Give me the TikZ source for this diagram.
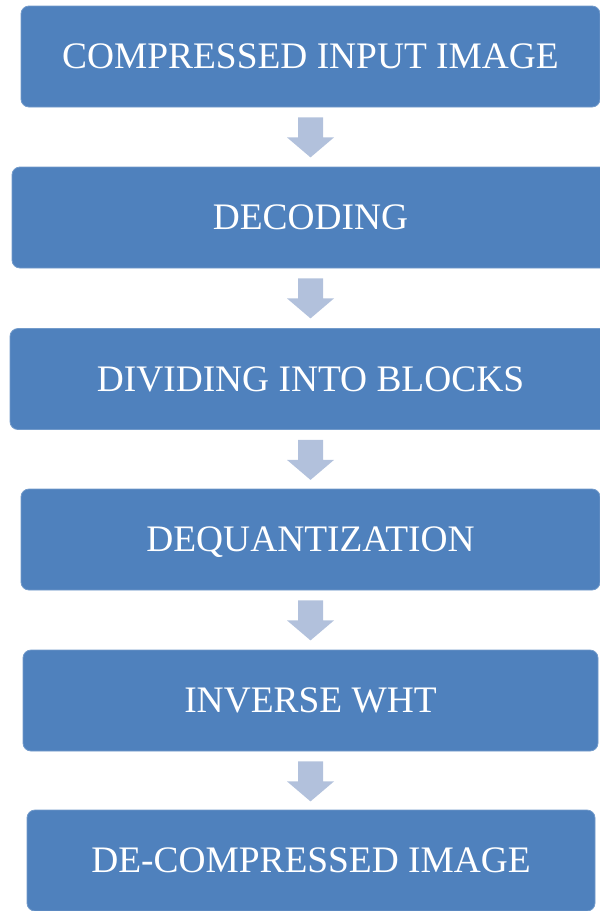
\documentclass[tikz,border=0pt]{standalone}
\usepackage{fontspec}
\setmainfont{Liberation Serif}
\definecolor{boxblue}{HTML}{4F81BD}
\definecolor{arrowblue}{HTML}{B2C1DC}
\begin{document}
\begin{tikzpicture}[x=0.5pt,y=-0.5pt,
  stagebox/.style={fill=boxblue, draw=boxblue!80!white, line width=0.4pt,
    rounded corners=4pt, text=white, inner sep=0pt, text depth=0pt,
    font=\fontsize{18.7pt}{22pt}\selectfont, minimum height=50.5pt},
  flowarrow/.style={fill=arrowblue, draw=none}]
\useasboundingbox (0,0) rectangle (600,911);

% stages, top to bottom (centre x, centre y, width in px)
\node[stagebox, minimum width=289.5pt] (s1) at (310.5,56.5)  {COMPRESSED INPUT IMAGE};
\node[stagebox, minimum width=298.5pt] (s2) at (310.5,217.5) {DECODING};
\node[stagebox, minimum width=300.5pt] (s3) at (310.5,379)   {DIVIDING INTO BLOCKS};
\node[stagebox, minimum width=289.5pt] (s4) at (310.5,539.5) {DEQUANTIZATION};
\node[stagebox, minimum width=287.5pt] (s5) at (310.5,700.5) {INVERSE WHT};
\node[stagebox, minimum width=284pt]   (s6) at (311,860.5)   {DE-COMPRESSED IMAGE};

% block arrows between consecutive stages
\foreach \a/\b in {s1/s2, s2/s3, s3/s4, s4/s5, s5/s6}{
  \path (\a.south) ++(0,10) coordinate (top-\a);
  \fill[flowarrow] (top-\a) ++(-12.5,0) -- ++(25,0) -- ++(0,20) -- ++(11,0)
    -- ++(-23.5,20) -- ++(-23.5,-20) -- ++(11,0) -- cycle;
}
\end{tikzpicture}
\end{document}
